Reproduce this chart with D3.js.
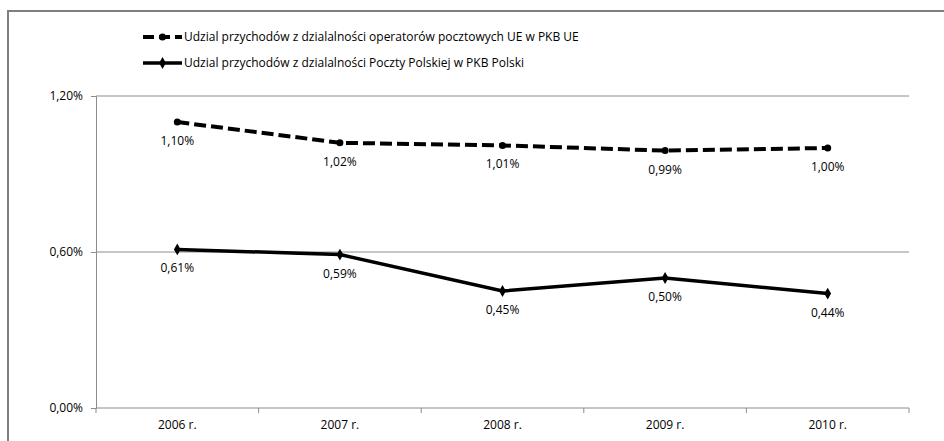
<!DOCTYPE html>
<html>
<head>
<meta charset="utf-8">
<script src="https://cdn.jsdelivr.net/npm/d3@7"></script>
<style>
  body { margin: 0; background: #fff; overflow: hidden; }
  svg text { font-family: "Open Sans", "DejaVu Sans", sans-serif; fill: #000; }
  .tick-label { font-size: 12px; }
  .cat-label { font-size: 12px; }
  .val-label { font-size: 12px; }
  .legend-text { font-size: 12px; }
</style>
</head>
<body>
<div class="chart"></div>
<script>
const years = ['2006 r.', '2007 r.', '2008 r.', '2009 r.', '2010 r.']
const ueShare = [1.10, 1.02, 1.01, 0.99, 1.00]
const ppShare = [0.61, 0.59, 0.45, 0.50, 0.44]
const yTicks = [0, 0.6, 1.2]
const seriesNames = [
  'Udzial przychodów z dzialalności operatorów pocztowych UE w PKB UE',
  'Udzial przychodów z dzialalności Poczty Polskiej w PKB Polski'
]

const width = 944
const height = 441
const margin = {top: 96, bottom: 33, left: 96, right: 35}

const svg = d3.select('.chart')
  .append('svg')
  .attr('width', width)
  .attr('height', height)
  .style('display', 'block')

// outer frame, only top and left edges are in view
svg.append('path')
  .attr('d', `M8,${height}V11H${width}`)
  .attr('fill', 'none')
  .attr('stroke', '#7f7f7f')
  .attr('stroke-width', 2)

const xScale = d3.scalePoint()
  .domain(years)
  .range([margin.left, width - margin.right])
  .padding(0.5)

const xBand = d3.scaleBand()
  .domain(years)
  .range([margin.left, width - margin.right])

const yScale = d3.scaleLinear()
  .domain([0, 1.2])
  .range([height - margin.bottom, margin.top])

const fmt = v => d3.format('.2f')(v).replace('.', ',') + '%'

// gridlines
svg.append('g')
  .selectAll('line')
  .data(yTicks.filter(d => d > 0))
  .enter()
  .append('line')
  .attr('x1', margin.left)
  .attr('x2', width - margin.right)
  .attr('y1', d => yScale(d))
  .attr('y2', d => yScale(d))
  .attr('stroke', '#8c8c8c')
  .attr('stroke-width', 1)

// y axis
const yAxis = svg.append('g')
  .attr('transform', `translate(${margin.left},0)`)
  .call(d3.axisLeft(yScale).tickValues(yTicks).tickSize(5).tickPadding(8).tickFormat(fmt))
yAxis.select('.domain').attr('stroke', '#8c8c8c')
yAxis.selectAll('.tick line').attr('stroke', '#8c8c8c')
yAxis.selectAll('.tick text').attr('class', 'tick-label').attr('font-family', null).attr('font-size', null)

// x axis: line + boundary ticks
const xAxis = svg.append('g')
  .attr('transform', `translate(0,${yScale(0)})`)
xAxis.append('line')
  .attr('x1', margin.left)
  .attr('x2', width - margin.right)
  .attr('stroke', '#8c8c8c')
const bounds = years.map(d => xBand(d)).concat([xBand.range()[1]])
xAxis.selectAll('.btick')
  .data(bounds)
  .enter()
  .append('line')
  .attr('class', 'btick')
  .attr('x1', d => d)
  .attr('x2', d => d)
  .attr('y1', 0)
  .attr('y2', 5)
  .attr('stroke', '#8c8c8c')
xAxis.selectAll('.cat-label')
  .data(years)
  .enter()
  .append('text')
  .attr('class', 'cat-label')
  .attr('text-anchor', 'middle')
  .attr('x', d => xScale(d))
  .attr('y', 21)
  .text(d => d)

const line = d3.line()
  .x((d, i) => xScale(years[i]))
  .y(d => yScale(d))

const diamond = d3.symbol().type(d3.symbolDiamond).size(40)

// EU series (dashed, circles)
svg.append('path')
  .attr('d', line(ueShare))
  .attr('fill', 'none')
  .attr('stroke', '#000')
  .attr('stroke-width', 4)
  .attr('stroke-dasharray', '12,5')

svg.append('g')
  .selectAll('circle')
  .data(ueShare)
  .enter()
  .append('circle')
  .attr('cx', (d, i) => xScale(years[i]))
  .attr('cy', d => yScale(d))
  .attr('r', 3.5)
  .attr('fill', '#000')

// Poczta Polska series (solid, diamonds)
svg.append('path')
  .attr('d', line(ppShare))
  .attr('fill', 'none')
  .attr('stroke', '#000')
  .attr('stroke-width', 3.5)

svg.append('g')
  .selectAll('path')
  .data(ppShare)
  .enter()
  .append('path')
  .attr('d', diamond)
  .attr('transform', (d, i) => `translate(${xScale(years[i])},${yScale(d)})`)
  .attr('fill', '#000')

// value labels below points
const labels = svg.append('g')
;[ueShare, ppShare].forEach(values => {
  labels.selectAll(null)
    .data(values)
    .enter()
    .append('text')
    .attr('class', 'val-label')
    .attr('text-anchor', 'middle')
    .attr('x', (d, i) => xScale(years[i]))
    .attr('y', d => yScale(d) + 23)
    .text(fmt)
})

// legend
const legend = svg.append('g')
const legendRows = [37, 63]
seriesNames.forEach((name, i) => {
  const row = legend.append('g').attr('transform', `translate(143,${legendRows[i]})`)
  row.append('line')
    .attr('x1', 0)
    .attr('x2', 39)
    .attr('stroke', '#000')
    .attr('stroke-width', i === 0 ? 4 : 3.5)
    .attr('stroke-dasharray', i === 0 ? '11,5' : null)
  if (i === 0) {
    row.append('circle').attr('cx', 19.5).attr('r', 3.5).attr('fill', '#000')
  } else {
    row.append('path').attr('d', diamond).attr('transform', 'translate(19.5,0)').attr('fill', '#000')
  }
  row.append('text')
    .attr('class', 'legend-text')
    .attr('x', 41)
    .attr('y', 4)
    .text(name)
})
</script>
</body>
</html>
